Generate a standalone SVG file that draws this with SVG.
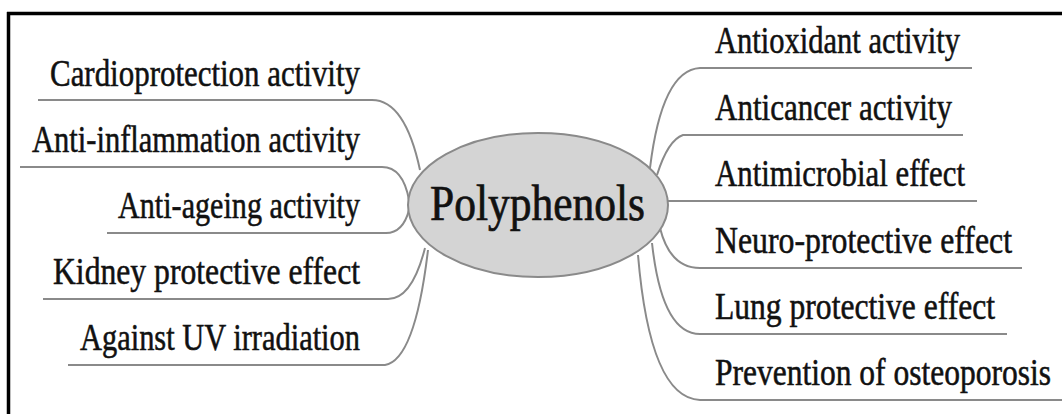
<svg xmlns="http://www.w3.org/2000/svg" width="1062" height="414" viewBox="0 0 1062 414">
<style>
.lbl{font-family:"Liberation Serif","Times New Roman",serif;font-size:31px;fill:#111;stroke:#111;stroke-width:0.45}
.l{text-anchor:end}
.r{text-anchor:start}
.c{fill:none;stroke:#8a8a8a;stroke-width:2}
</style>
<rect x="0" y="0" width="1062" height="414" fill="#ffffff"/>
<g id="frame">
<line x1="7" y1="13.5" x2="1062" y2="13.5" stroke="#000" stroke-width="3.5"/>
<line x1="8.5" y1="12" x2="8.5" y2="414" stroke="#000" stroke-width="3.5"/>
</g>
<g id="connectors">
<path class="c" d="M38,100 H372 Q405,100 420,170"/>
<path class="c" d="M20,167 H382 Q403,167 409,200"/>
<path class="c" d="M107,233 H386 Q403,233 409,210"/>
<path class="c" d="M43,299 H388 Q412,299 425,248"/>
<path class="c" d="M68,365 H385 Q415,360 428,250"/>
<path class="c" d="M972,68 H700 Q662,70 650,168"/>
<path class="c" d="M963,135 H683 Q668,140 657,175"/>
<path class="c" d="M977,201 H667"/>
<path class="c" d="M1022,268 H700 Q670,268 660,228"/>
<path class="c" d="M1007,334 H700 Q662,334 652,243"/>
<path class="c" d="M1062,400 H700 Q650,398 638,255"/>
</g>
<g id="center">
<ellipse cx="538" cy="205" rx="130" ry="72" fill="#d4d4d4" stroke="#8a8a8a" stroke-width="2"/>
<text transform="translate(430,220) scale(1,1.2)" style="font-family:'Liberation Serif','Times New Roman',serif;font-size:42px;fill:#111;stroke:#111;stroke-width:0.6" textLength="215" lengthAdjust="spacingAndGlyphs">Polyphenols</text>
</g>
<g id="n-cardio"><text class="lbl l" transform="translate(360,86) scale(1,1.2)" textLength="310" lengthAdjust="spacingAndGlyphs">Cardioprotection activity</text></g>
<g id="n-inflam"><text class="lbl l" transform="translate(360,152) scale(1,1.2)" textLength="328" lengthAdjust="spacingAndGlyphs">Anti-inflammation activity</text></g>
<g id="n-ageing"><text class="lbl l" transform="translate(360,218) scale(1,1.2)" textLength="242" lengthAdjust="spacingAndGlyphs">Anti-ageing activity</text></g>
<g id="n-kidney"><text class="lbl l" transform="translate(360,284) scale(1,1.2)" textLength="307" lengthAdjust="spacingAndGlyphs">Kidney protective effect</text></g>
<g id="n-uv"><text class="lbl l" transform="translate(360,350) scale(1,1.2)" textLength="280" lengthAdjust="spacingAndGlyphs">Against UV irradiation</text></g>
<g id="n-antiox"><text class="lbl r" transform="translate(715,53) scale(1,1.2)" textLength="245" lengthAdjust="spacingAndGlyphs">Antioxidant activity</text></g>
<g id="n-cancer"><text class="lbl r" transform="translate(715,120) scale(1,1.2)" textLength="237" lengthAdjust="spacingAndGlyphs">Anticancer activity</text></g>
<g id="n-microb"><text class="lbl r" transform="translate(715,186) scale(1,1.2)" textLength="250" lengthAdjust="spacingAndGlyphs">Antimicrobial effect</text></g>
<g id="n-neuro"><text class="lbl r" transform="translate(715,253) scale(1,1.2)" textLength="297" lengthAdjust="spacingAndGlyphs">Neuro-protective effect</text></g>
<g id="n-lung"><text class="lbl r" transform="translate(715,319) scale(1,1.2)" textLength="280" lengthAdjust="spacingAndGlyphs">Lung protective effect</text></g>
<g id="n-osteo"><text class="lbl r" transform="translate(715,385) scale(1,1.2)" textLength="336" lengthAdjust="spacingAndGlyphs">Prevention of osteoporosis</text></g>
</svg>
